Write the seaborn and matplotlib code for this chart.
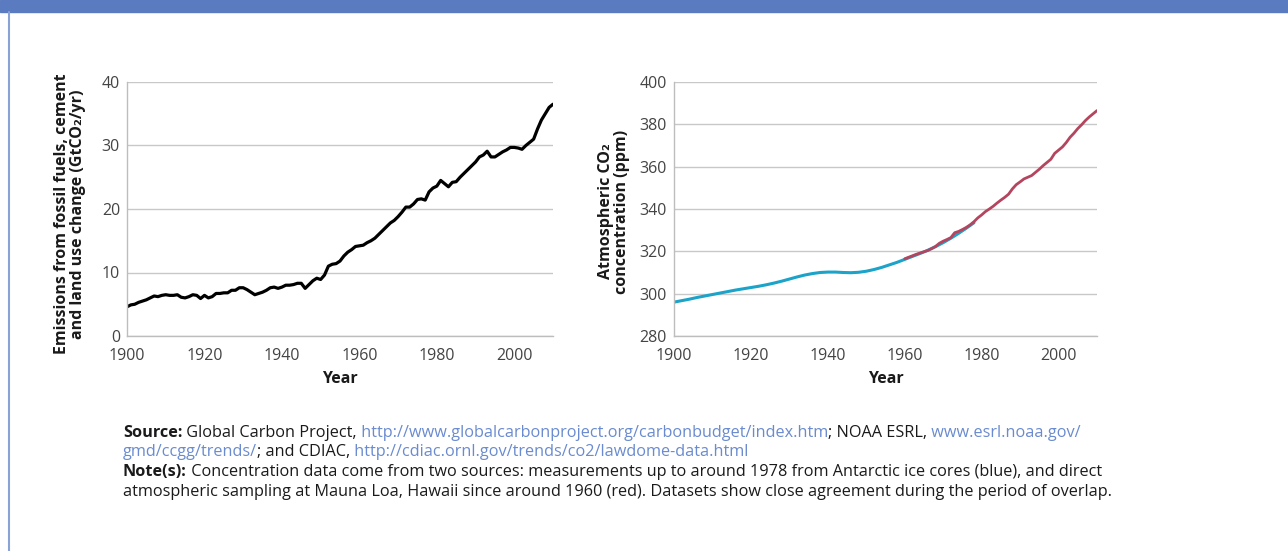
import matplotlib
matplotlib.use("Agg")
import matplotlib.pyplot as plt
import seaborn as sns
import pandas as pd
from matplotlib.patches import Rectangle
from matplotlib.lines import Line2D

# Emissions from fossil fuels, cement and land use change (GtCO2/yr), 1900-2010
emis_years = list(range(1900, 2011))
emis_values = [
    4.6, 4.9, 5.0, 5.3, 5.5, 5.7, 6.0, 6.3, 6.2, 6.4,
    6.5, 6.4, 6.4, 6.5, 6.1, 6.0, 6.2, 6.5, 6.4, 5.9,
    6.4, 6.0, 6.2, 6.7, 6.7, 6.8, 6.8, 7.2, 7.2, 7.6,
    7.6, 7.3, 6.9, 6.5, 6.7, 6.9, 7.2, 7.6, 7.7, 7.5,
    7.7, 8.0, 8.0, 8.1, 8.3, 8.3, 7.5, 8.1, 8.7, 9.1,
    8.9, 9.6, 11.0, 11.3, 11.4, 11.8, 12.6, 13.2, 13.6, 14.1,
    14.2, 14.3, 14.7, 15.0, 15.4, 16.0, 16.6, 17.2, 17.8, 18.2,
    18.8, 19.5, 20.3, 20.3, 20.8, 21.5, 21.6, 21.4, 22.7, 23.3,
    23.6, 24.5, 24.0, 23.5, 24.2, 24.3, 25.0, 25.6, 26.2, 26.8,
    27.4, 28.2, 28.5, 29.1, 28.2, 28.2, 28.6, 29.0, 29.3, 29.7,
    29.7, 29.6, 29.4, 30.0, 30.5, 31.0, 32.6, 34.0, 35.0, 36.0,
    36.5,
]

# Antarctic ice cores (blue), every 2 years
ice_years = list(range(1900, 1979, 2))
ice_values = [
    296.0, 296.7, 297.4, 298.2, 298.9, 299.6, 300.3, 301.0, 301.7, 302.3,
    302.9, 303.5, 304.2, 305.0, 305.9, 306.9, 307.9, 308.8, 309.5, 310.0,
    310.2, 310.2, 310.0, 309.9, 310.1, 310.6, 311.4, 312.4, 313.6, 314.8,
    316.2, 317.6, 319.0, 320.5, 322.2, 324.1, 326.2, 328.5, 330.9, 333.5,
]

# Mauna Loa (red), 1960-2010
ml_years = list(range(1960, 2011))
ml_values = [
    316.5, 317.2, 317.9, 318.6, 319.2, 319.8, 320.4, 321.3, 322.3, 323.8,
    324.8, 325.6, 326.5, 328.8, 329.4, 330.3, 331.3, 332.5, 334.0, 335.8,
    337.2, 338.8, 340.0, 341.3, 342.8, 344.2, 345.5, 347.0, 349.5, 351.5,
    352.8, 354.2, 355.0, 355.8, 357.3, 358.8, 360.5, 362.0, 363.5, 366.3,
    367.8, 369.3, 371.4, 373.9, 375.8, 378.0, 379.8, 381.8, 383.5, 385.0,
    386.5,
]

x_ticks = [1900, 1920, 1940, 1960, 1980, 2000]

emis = pd.DataFrame({"Year": emis_years, "Emissions": emis_values})
ice = pd.DataFrame({"Year": ice_years, "CO2": ice_values})
ml = pd.DataFrame({"Year": ml_years, "CO2": ml_values})

sns.set_style("white")
plt.rcParams["font.family"] = ["Open Sans", "DejaVu Sans"]

W, H = 1288, 551
fig = plt.figure(figsize=(W / 100, H / 100), dpi=100, facecolor="white")

# header band and left border
fig.patches.append(Rectangle((0, 1 - 12 / H), 1, 12 / H, transform=fig.transFigure,
                             color="#5a7bbf", zorder=0))
fig.lines.append(Line2D([8.5 / W, 8.5 / W], [0, 1 - 12 / H], transform=fig.transFigure,
                        color="#8aa3d6", lw=1.5))

ax1 = fig.add_axes([127 / W, 1 - 336 / H, 426 / W, 254 / H])
ax2 = fig.add_axes([674 / W, 1 - 336 / H, 423 / W, 254 / H])

sns.lineplot(data=emis, x="Year", y="Emissions", color="black", lw=2.3, ax=ax1)
sns.lineplot(data=ice, x="Year", y="CO2", color="#1ba3c9", lw=2.2, ax=ax2)
sns.lineplot(data=ml, x="Year", y="CO2", color="#b4455f", lw=2.0, ax=ax2)

ax1.set_ylim(0, 40)
ax1.set_yticks([0, 10, 20, 30, 40])
ax2.set_ylim(280, 400)
ax2.set_yticks(range(280, 401, 20))

for ax in (ax1, ax2):
    ax.set_xlim(1900, 2010)
    ax.set_xticks(x_ticks)
    ax.grid(axis="y", color="#c8c8c8", lw=1)
    ax.grid(axis="x", visible=False)
    ax.spines["top"].set_visible(False)
    ax.spines["right"].set_visible(False)
    for s in ("left", "bottom"):
        ax.spines[s].set_color("#bdbdbd")
        ax.spines[s].set_linewidth(1)
    ax.tick_params(axis="both", length=0, labelsize=11.5, colors="#444444")
    ax.tick_params(axis="y", pad=5)
    ax.tick_params(axis="x", pad=8.5)
    ax.set_xlabel("Year", fontsize=11.5, fontweight="bold", color="#1a1a1a", labelpad=5.5)

ax1.set_ylabel("Emissions from fossil fuels, cement\nand land use change (GtCO₂/yr)",
               fontsize=11.5, fontweight="bold", color="#1a1a1a", linespacing=1.0)
ax1.yaxis.set_label_coords(-0.096, 0.48)
ax2.set_ylabel("Atmospheric CO₂\nconcentration (ppm)",
               fontsize=11.5, fontweight="bold", color="#1a1a1a", linespacing=1.0)
ax2.yaxis.set_label_coords(-0.104, 0.49)

# footnote with mixed styles
renderer = fig.canvas.get_renderer()
black, link = "#1a1a1a", "#6a8bcf"

last_line = ("atmospheric sampling at Mauna Loa, Hawaii since around 1960 (red). "
             "Datasets show close agreement during the period of overlap.")
probe = fig.text(0, 0, last_line, fontsize=10)
note_size = 10 * 985 / probe.get_window_extent(renderer).width
probe.remove()


def rich_line(x_px, y_px, parts, size=note_size):
    x = x_px / W
    for s, weight, color in parts:
        t = fig.text(x, 1 - y_px / H, s, fontsize=size, fontweight=weight, color=color,
                     va="baseline", ha="left")
        x += t.get_window_extent(renderer).width / fig.bbox.width


rich_line(123, 437, [("Source:", "bold", black), (" Global Carbon Project,", "normal", black),
                     (" http://www.globalcarbonproject.org/carbonbudget/index.htm", "normal", link),
                     ("; NOAA ESRL,", "normal", black), (" www.esrl.noaa.gov/", "normal", link)])
rich_line(123, 456.5, [("gmd/ccgg/trends/", "normal", link), ("; and CDIAC,", "normal", black),
                       (" http://cdiac.ornl.gov/trends/co2/lawdome-data.html", "normal", link)])
rich_line(123, 476, [("Note(s):", "bold", black),
                     (" Concentration data come from two sources: measurements up to around 1978 "
                      "from Antarctic ice cores (blue), and direct", "normal", black)])
rich_line(123, 495.5, [(last_line, "normal", black)])

fig.savefig("out.png", dpi=100, facecolor="white")
